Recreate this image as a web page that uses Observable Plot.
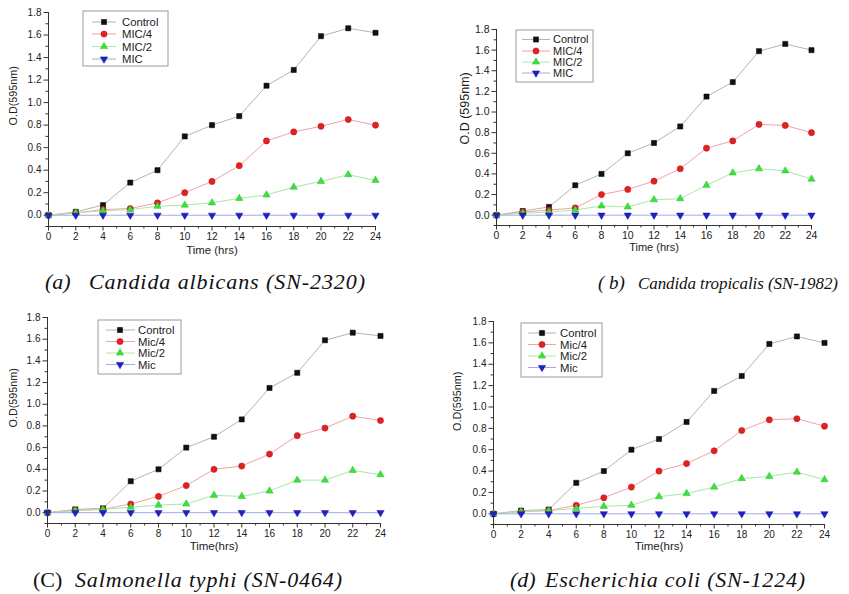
<!DOCTYPE html>
<html><head><meta charset="utf-8">
<script src="https://cdn.jsdelivr.net/npm/d3@7"></script>
<script src="https://cdn.jsdelivr.net/npm/@observablehq/plot@0.6"></script>
<style>
html,body{margin:0;padding:0;background:#fff}
body{width:849px;height:594px;position:relative;overflow:hidden;font-family:"Liberation Sans",Arial,sans-serif}
.panel{position:absolute}
#captions{position:absolute;left:0;top:0}
</style></head><body>
<div id="pa" class="panel" style="left:0px;top:0px"></div>
<div id="pb" class="panel" style="left:425px;top:0px"></div>
<div id="pc" class="panel" style="left:0px;top:300px"></div>
<div id="pd" class="panel" style="left:425px;top:300px"></div>
<svg id="captions" width="849" height="594"></svg>
<script>
// ---------- DATA ----------
const time = [0, 2, 4, 6, 8, 10, 12, 14, 16, 18, 20, 22, 24];
const xTickLabels = [0, 2, 4, 6, 8, 10, 12, 14, 16, 18, 20, 22, 24];
const xMinorTicks = [1, 3, 5, 7, 9, 11, 13, 15, 17, 19, 21, 23];
const yTickLabels = [0.0, 0.2, 0.4, 0.6, 0.8, 1.0, 1.2, 1.4, 1.6, 1.8];
const yMinorTicks = [-0.1, 0.1, 0.3, 0.5, 0.7, 0.9, 1.1, 1.3, 1.5, 1.7];

const seriesUpper = ["Control", "MIC/4", "MIC/2", "MIC"];
const seriesLower = ["Control", "Mic/4", "Mic/2", "Mic"];

// (a) Candida albicans
const aControl = [0, 0.03, 0.09, 0.29, 0.40, 0.70, 0.80, 0.88, 1.15, 1.29, 1.59, 1.66, 1.62];
const aMic4    = [0, 0.02, 0.05, 0.06, 0.11, 0.20, 0.30, 0.44, 0.66, 0.74, 0.79, 0.85, 0.80];
const aMic2    = [0, 0.02, 0.04, 0.05, 0.08, 0.09, 0.11, 0.15, 0.18, 0.25, 0.30, 0.36, 0.31];
const aMic     = [0, 0, 0, 0, 0, 0, 0, 0, 0, 0, 0, 0, 0];
// (b) Candida tropicalis
const bControl = [0, 0.04, 0.08, 0.29, 0.40, 0.60, 0.70, 0.86, 1.15, 1.29, 1.59, 1.66, 1.60];
const bMic4    = [0, 0.03, 0.05, 0.07, 0.20, 0.25, 0.33, 0.45, 0.65, 0.72, 0.88, 0.87, 0.80];
const bMic2    = [0, 0.02, 0.03, 0.05, 0.09, 0.08, 0.15, 0.16, 0.29, 0.41, 0.45, 0.43, 0.35];
const bMic     = [0, 0, 0, 0, 0, 0, 0, 0, 0, 0, 0, 0, 0];
// (C) Salmonella typhi
const cControl = [0, 0.03, 0.04, 0.29, 0.40, 0.60, 0.70, 0.86, 1.15, 1.29, 1.59, 1.66, 1.63];
const cMic4    = [0, 0.02, 0.03, 0.08, 0.15, 0.25, 0.40, 0.43, 0.54, 0.71, 0.78, 0.89, 0.85];
const cMic2    = [0, 0.02, 0.03, 0.05, 0.07, 0.08, 0.16, 0.15, 0.20, 0.30, 0.30, 0.39, 0.35];
const cMic     = [0, 0, 0, 0, 0, 0, 0, 0, 0, 0, 0, 0, 0];
// (d) Escherichia coli
const dControl = [0, 0.03, 0.04, 0.29, 0.40, 0.60, 0.70, 0.86, 1.15, 1.29, 1.59, 1.66, 1.60];
const dMic4    = [0, 0.02, 0.03, 0.08, 0.15, 0.25, 0.40, 0.47, 0.59, 0.78, 0.88, 0.89, 0.82];
const dMic2    = [0, 0.02, 0.03, 0.05, 0.07, 0.08, 0.16, 0.19, 0.25, 0.33, 0.35, 0.39, 0.32];
const dMic     = [0, 0, 0, 0, 0, 0, 0, 0, 0, 0, 0, 0, 0];

// ---------- STYLE ----------
const triDown = {
  draw(ctx, size) {
    const y = -Math.sqrt(size / (Math.sqrt(3) * 3));
    ctx.moveTo(0, -y * 2);
    ctx.lineTo(-Math.sqrt(3) * y, y);
    ctx.lineTo(Math.sqrt(3) * y, y);
    ctx.closePath();
  }
};
const markerSymbols = ["square", "circle", "triangle", triDown];
const d3Symbols = [d3.symbolSquare, d3.symbolCircle, d3.symbolTriangle, triDown];
const markerColors = ["#111111", "#e02222", "#3ee03e", "#2020c8"];
const markerStroke = ["#000000", "#c01010", "#22c022", "#10109a"];
const lineColors = ["#b4b4b4", "#f0a4a4", "#a6eaa6", "#a8a8ee"];
const markerR = [2.9, 3.1, 2.7, 2.7];
const axisColor = "#333";
const sansFont = '"Liberation Sans", Arial, Helvetica, sans-serif';
const serifFont = '"Liberation Serif", "Times New Roman", serif';

function buildPanel(el, cfg, names, vals) {
  const data = [];
  names.forEach((n, i) => time.forEach((t, j) => data.push({ i, t, v: vals[i][j] })));
  const legend = () => {
    const L = cfg.legend;
    const g = d3.create("svg:g").attr("text-anchor", "start");
    g.append("rect").attr("x", L.x).attr("y", L.y).attr("width", L.w).attr("height", L.h)
      .attr("fill", "white").attr("stroke", "#9a9a9a").attr("stroke-width", 1);
    names.forEach((n, i) => {
      const y = L.rows[i];
      g.append("line").attr("x1", L.lx1).attr("x2", L.lx2).attr("y1", y).attr("y2", y)
        .attr("stroke", lineColors[i]).attr("stroke-width", 1);
      g.append("path").attr("transform", `translate(${L.sx},${y})`)
        .attr("d", d3.symbol(d3Symbols[i], Math.PI * markerR[i] * markerR[i])())
        .attr("fill", markerColors[i]).attr("stroke", markerStroke[i]).attr("stroke-width", 0.5);
      g.append("text").attr("x", L.tx).attr("y", y).attr("dy", "0.36em")
        .attr("text-anchor", "start")
        .attr("font-size", L.fs).attr("fill", "#222").text(n);
    });
    return g.node();
  };
  const marks = [
    Plot.axisX({ ticks: xMinorTicks, tickSize: 2.5, tickFormat: () => "", label: null, stroke: axisColor }),
    Plot.axisX({ ticks: xTickLabels, tickSize: 4.5, tickPadding: 2, tickFormat: d => String(d), label: null, stroke: axisColor, fontSize: cfg.tickFs }),
    Plot.axisY({ ticks: yMinorTicks, tickSize: 2.5, tickFormat: () => "", label: null, stroke: axisColor }),
    Plot.axisY({ ticks: yTickLabels, tickSize: 4.5, tickPadding: 2.5, tickFormat: d3.format(".1f"), label: null, stroke: axisColor, fontSize: cfg.tickFs }),
    Plot.ruleX([0], { stroke: axisColor, strokeWidth: 1 }),
    Plot.ruleY([-0.1], { stroke: axisColor, strokeWidth: 1 }),
    Plot.text([cfg.xLabel], { frameAnchor: "bottom", dy: cfg.xLabelDy, fontSize: cfg.xLabelFs, fill: "#222" }),
    Plot.text([cfg.yLabel], { frameAnchor: "left", dx: -cfg.yLabelDx, dy: cfg.yLabelDy, rotate: -90, fontSize: cfg.yLabelFs, fill: "#222" }),
    ...names.map((n, i) => Plot.line(data.filter(d => d.i === i), { x: "t", y: "v", stroke: lineColors[i], strokeWidth: 1 })),
    ...names.map((n, i) => Plot.dot(data.filter(d => d.i === i), { x: "t", y: "v", symbol: markerSymbols[i], r: markerR[i], fill: markerColors[i], stroke: markerStroke[i], strokeWidth: 0.5 })),
    legend
  ];
  const chart = Plot.plot({
    width: cfg.width, height: cfg.height,
    marginLeft: cfg.mL, marginRight: cfg.mR, marginTop: cfg.mT, marginBottom: cfg.mB,
    x: { domain: [0, 24] },
    y: { domain: [-0.1, 1.8] },
    style: { fontFamily: sansFont, fontSize: cfg.tickFs + "px", color: "#222", background: "transparent", overflow: "visible" },
    marks
  });
  document.getElementById(el).appendChild(chart);
}

buildPanel("pa", {
  width: 425, height: 270, mL: 48, mR: 50, mT: 12, mB: 44, tickFs: 10,
  xLabel: "Time (hrs)", xLabelDy: 27, xLabelFs: 11.4,
  yLabel: "O.D(595nm)", yLabelDx: 35, yLabelDy: 6, yLabelFs: 10.8,
  legend: { x: 83, y: 11, w: 85, h: 55, rows: [22, 34, 46.5, 59], lx1: 92, lx2: 116, sx: 104, tx: 122, fs: 11.3 }
}, seriesUpper, [aControl, aMic4, aMic2, aMic]);

buildPanel("pb", {
  width: 424, height: 270, mL: 71, mR: 38, mT: 29, mB: 45, tickFs: 10.5,
  xLabel: "Time (hrs)", xLabelDy: 25, xLabelFs: 11,
  yLabel: "O.D (595nm)", yLabelDx: 32, yLabelDy: 17, yLabelFs: 12.5,
  legend: { x: 91, y: 30, w: 77, h: 52, rows: [39.5, 51, 62, 73], lx1: 97, lx2: 125, sx: 111, tx: 128, fs: 11 }
}, seriesUpper, [bControl, bMic4, bMic2, bMic]);

buildPanel("pc", {
  width: 425, height: 260, mL: 47, mR: 45, mT: 17, mB: 37, tickFs: 10,
  xLabel: "Time(hrs)", xLabelDy: 26, xLabelFs: 11.5,
  yLabel: "O.D(595nm)", yLabelDx: 34, yLabelDy: 7, yLabelFs: 10.8,
  legend: { x: 98, y: 20, w: 83, h: 54, rows: [30, 41.5, 53, 64.5], lx1: 106, lx2: 135, sx: 120, tx: 138, fs: 11.3 }
}, seriesLower, [cControl, cMic4, cMic2, cMic]);

buildPanel("pd", {
  width: 424, height: 260, mL: 68, mR: 25, mT: 21, mB: 36, tickFs: 10,
  xLabel: "Time(hrs)", xLabelDy: 25, xLabelFs: 11.5,
  yLabel: "O.D(595nm)", yLabelDx: 36, yLabelDy: 8, yLabelFs: 10.8,
  legend: { x: 96, y: 23, w: 81, h: 54, rows: [33, 44.5, 56, 67.5], lx1: 103, lx2: 131, sx: 117, tx: 135, fs: 11.3 }
}, seriesLower, [dControl, dMic4, dMic2, dMic]);

// ---------- CAPTIONS ----------
const captions = [
  { pre: "(a)", preItalic: true, preX: 45, preFs: 22, main: "Candida albicans (SN-2320)", mainX: 89, mainW: 276, y: 289, fs: 22 },
  { pre: "( b)", preItalic: true, preX: 598, preFs: 19, main: "Candida tropicalis (SN-1982)", mainX: 638, mainW: 200, y: 289, fs: 17 },
  { pre: "(C)", preItalic: false, preX: 33, preFs: 22, main: "Salmonella typhi (SN-0464)", mainX: 75, mainW: 267, y: 587, fs: 22 },
  { pre: "(d)", preItalic: true, preX: 510, preFs: 22, main: "Escherichia coli (SN-1224)", mainX: 545, mainW: 260, y: 587, fs: 22 }
];
const cap = d3.select("#captions");
captions.forEach(c => {
  cap.append("text").attr("x", c.preX).attr("y", c.y)
    .attr("font-family", serifFont)
    .attr("font-style", c.preItalic ? "italic" : "normal")
    .attr("font-size", c.preFs).attr("fill", "#111").text(c.pre);
  cap.append("text").attr("x", c.mainX).attr("y", c.y)
    .attr("font-family", serifFont)
    .attr("font-style", "italic")
    .attr("font-size", c.fs).attr("fill", "#111")
    .attr("textLength", c.mainW).attr("lengthAdjust", "spacing").text(c.main);
});
</script>
</body></html>
